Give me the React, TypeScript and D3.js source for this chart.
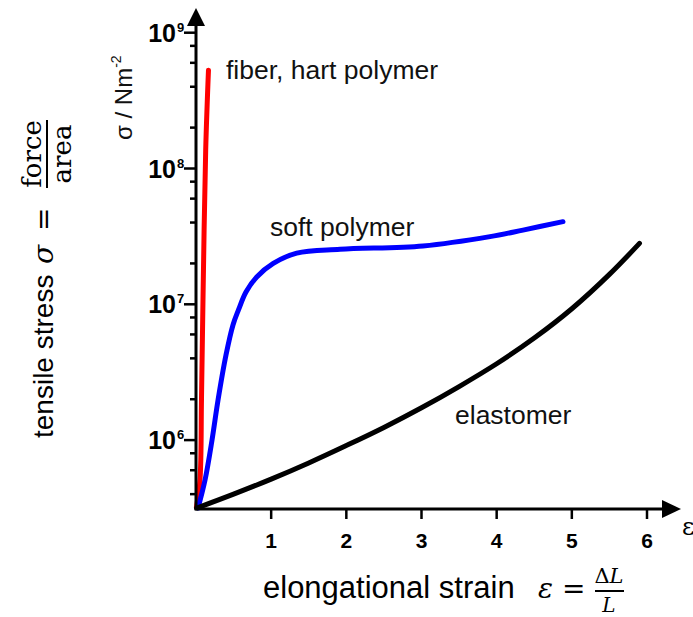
import React from "react";
import * as d3 from "d3";

// strain (ε) values and stresses (N/m²)
const fiberStrain = [0.005, 0.053, 0.073, 0.093, 0.129, 0.166];
const fiberStress = [3.2e5, 5.1e5, 2.0e6, 1.08e7, 1.37e8, 5.3e8];

const softStrain = [0.027, 0.12, 0.213, 0.293, 0.399, 0.492, 0.565, 0.665, 0.808, 1.028, 1.34, 1.916, 3.02, 3.911, 4.35, 4.882];
const softStress = [3.16e5, 5.08e5, 1.0e6, 1.97e6, 4.23e6, 7.05e6, 9.09e6, 1.23e7, 1.59e7, 2.0e7, 2.38e7, 2.54e7, 2.69e7, 3.15e7, 3.52e7, 4.06e7];

const elastStrain = [0.01, 0.5, 1.0, 1.5, 2.0, 2.5, 3.0, 3.5, 4.0, 4.5, 5.0, 5.5, 5.9];
const elastStress = [3.16e5, 4.0e5, 5.16e5, 6.79e5, 9.12e5, 1.24e6, 1.73e6, 2.48e6, 3.65e6, 5.64e6, 9.27e6, 1.66e7, 2.81e7];

const xTicks = [1, 2, 3, 4, 5, 6];
const yMajor = [1e6, 1e7, 1e8, 1e9];
const yExp = ["6", "7", "8", "9"];
const yMinorMult = [2, 4, 6, 8];

const W = 693;
const H = 617;

const sans = "'Liberation Sans', Arial, sans-serif";
const serif = "'DejaVu Serif', 'Liberation Serif', serif";

export default function App() {
  const x = d3.scaleLinear().domain([0, 6]).range([196, 647]);
  const y = d3.scaleLog().domain([Math.pow(10, 5.5), 1e9]).range([508, 32.7]);
  const x0 = x(0);
  const y0 = y(Math.pow(10, 5.5));

  const line = (xs: number[], ys: number[]) =>
    d3
      .line<number>()
      .x((d, i) => x(xs[i]))
      .y((d, i) => y(ys[i]))
      .curve(d3.curveCatmullRom.alpha(0.5))(xs) || "";

  const minors: number[] = [];
  [1e5, 1e6, 1e7, 1e8].forEach((dec) =>
    yMinorMult.forEach((m) => {
      const v = dec * m;
      if (v > Math.pow(10, 5.5) && v < 1e9) minors.push(v);
    })
  );

  return (
    <svg width={W} height={H} style={{ position: "absolute", left: 0, top: 0, background: "#fff" }}>
      {/* curves */}
      <path d={line(fiberStrain, fiberStress)} fill="none" stroke="#ff0000" strokeWidth={5} strokeLinecap="round" />
      <path d={line(softStrain, softStress)} fill="none" stroke="#0000ff" strokeWidth={5} strokeLinecap="round" />
      <path d={line(elastStrain, elastStress)} fill="none" stroke="#000" strokeWidth={5} strokeLinecap="round" />

      {/* y axis */}
      <line x1={x0} x2={x0} y1={y0 + 1.5} y2={22} stroke="#000" strokeWidth={3} />
      <polygon points={`${x0},8 ${x0 - 9},26 ${x0 + 9},26`} fill="#000" />
      {yMajor.map((v, i) => (
        <g key={v}>
          <line x1={x0 - 12} x2={x0} y1={y(v)} y2={y(v)} stroke="#000" strokeWidth={2.5} />
          <text x={176} y={y(v) + 9} textAnchor="end" fontFamily={sans} fontWeight="bold" fontSize={25}>
            10
          </text>
          <text x={177} y={y(v) - 1} fontFamily={sans} fontWeight="bold" fontSize={13}>
            {yExp[i]}
          </text>
        </g>
      ))}
      {minors.map((v) => (
        <line key={v} x1={x0 - 6} x2={x0} y1={y(v)} y2={y(v)} stroke="#000" strokeWidth={2.5} />
      ))}

      {/* x axis */}
      <line x1={x0 - 1.5} x2={665} y1={y0 + 1} y2={y0 + 1} stroke="#000" strokeWidth={3} />
      <polygon points={`681,${y0 + 1} 662,${y0 - 8} 662,${y0 + 10}`} fill="#000" />
      {xTicks.map((t) => (
        <g key={t}>
          <line x1={x(t)} x2={x(t)} y1={y0 + 1} y2={y0 + 11} stroke="#000" strokeWidth={2.5} />
          <text x={x(t)} y={548} textAnchor="middle" fontFamily={sans} fontWeight="bold" fontSize={21}>
            {t}
          </text>
        </g>
      ))}
      <text x={682} y={535} fontFamily={serif} fontSize={24}>ε</text>

      {/* series labels */}
      <text x={226} y={79} fontFamily={sans} fontSize={26.5} fill="#111">fiber, hart polymer</text>
      <text x={270} y={236} fontFamily={sans} fontSize={26.5} fill="#111">soft polymer</text>
      <text x={455} y={424} fontFamily={sans} fontSize={26.5} fill="#111">elastomer</text>

      {/* inner y label */}
      <text transform="translate(132,140) rotate(-90)" fontFamily={sans} fontSize={24} fill="#111">
        σ / Nm
        <tspan fontSize={14} dy={-11}>-2</tspan>
      </text>

      {/* outer y title */}
      <g transform="translate(53,438) rotate(-90)">
        <text x={0} y={0} fontFamily={sans} fontSize={28}>tensile stress</text>
        <text x={174} y={0} fontFamily={serif} fontStyle="italic" fontSize={28}>σ</text>
        <text x={207} y={0} fontFamily={serif} fontSize={28}>=</text>
        <text x={284} y={-12} textAnchor="middle" fontFamily={serif} fontSize={26}>force</text>
        <line x1={250} x2={318} y1={-6} y2={-6} stroke="#000" strokeWidth={2} />
        <text x={284} y={18} textAnchor="middle" fontFamily={serif} fontSize={26}>area</text>
      </g>

      {/* x title */}
      <text x={263} y={598} fontFamily={sans} fontSize={31}>elongational strain</text>
      <text x={538} y={598} fontFamily={serif} fontStyle="italic" fontSize={28}>ε</text>
      <text x={562} y={598} fontFamily={serif} fontSize={28}>=</text>
      <text x={609} y={583} textAnchor="middle" fontFamily={serif} fontSize={21}>
        Δ<tspan fontStyle="italic">L</tspan>
      </text>
      <line x1={595} x2={624} y1={591} y2={591} stroke="#000" strokeWidth={2} />
      <text x={609} y={612} textAnchor="middle" fontFamily={serif} fontStyle="italic" fontSize={20}>L</text>
    </svg>
  );
}
